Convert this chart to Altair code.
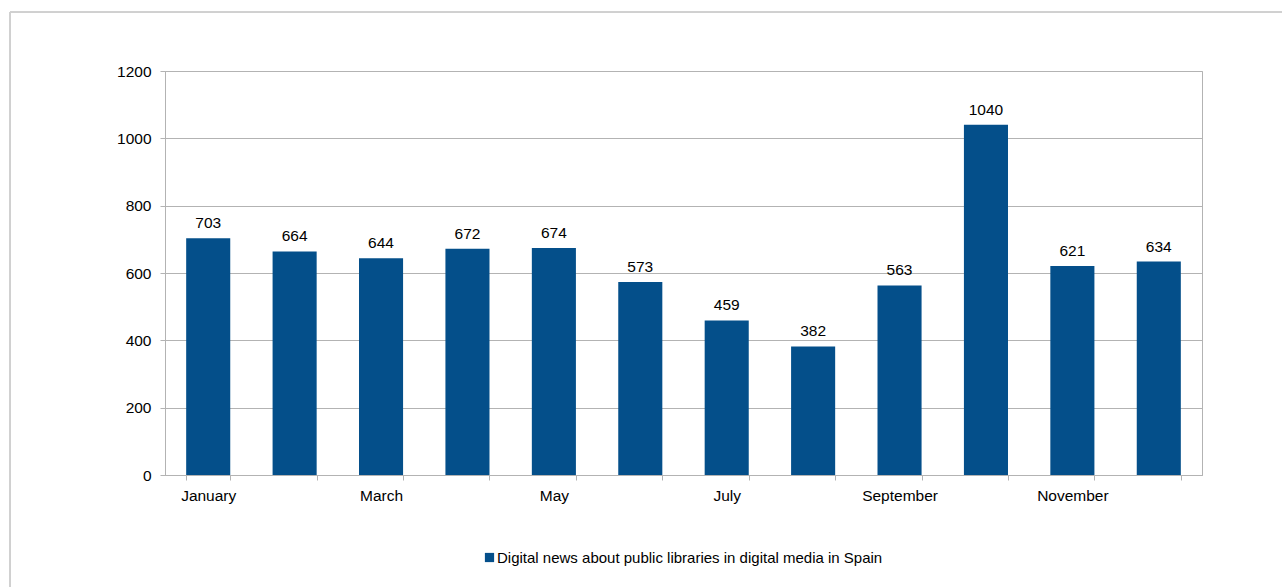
import altair as alt
import pandas as pd

months = ["January", "February", "March", "April", "May", "June", "July",
          "August", "September", "October", "November", "December"]
values = [703, 664, 644, 672, 674, 573, 459, 382, 563, 1040, 621, 634]
series_name = "Digital news about public libraries in digital media in Spain"

df = pd.DataFrame({"month": months, "value": values, "series": series_name})

FONT = "Liberation Sans"
GRID = "#b3b3b3"
BAR = "#044f8a"

x = alt.X("month:N", sort=months, title=None,
          scale=alt.Scale(paddingInner=0.49, paddingOuter=0.245),
          axis=alt.Axis(labelAngle=0, tickBand="extent", tickSize=5,
                        labelExpr="indexof(['January','March','May','July','September','November'], datum.value) >= 0 ? datum.value : ''",
                        labelPadding=8, labelFontSize=15.5, labelColor="#000000",
                        labelFont=FONT, domainColor=GRID, tickColor=GRID,
                        grid=False))
y = alt.Y("value:Q", title=None,
          scale=alt.Scale(domain=[0, 1200], nice=False),
          axis=alt.Axis(values=[0, 200, 400, 600, 800, 1000, 1200], tickSize=5,
                        format="d",
                        labelPadding=9, labelFontSize=15.5, labelColor="#000000",
                        labelFont=FONT, domainColor=GRID, tickColor=GRID,
                        gridColor=GRID, grid=True))

bars = alt.Chart(df).mark_bar(color=BAR).encode(
    x=x, y=y,
    color=alt.Color("series:N", scale=alt.Scale(range=[BAR]),
                    legend=alt.Legend(title=None, orient="none", legendX=317, legendY=479,
                                      symbolType="square", symbolSize=85,
                                      symbolStrokeWidth=0, labelFontSize=15,
                                      labelFont=FONT, labelColor="#000000",
                                      labelLimit=600, labelOffset=0)),
)

labels = alt.Chart(df).mark_text(baseline="bottom", dy=-7, fontSize=15.5,
                                  font=FONT, color="#000000").encode(
    x=alt.X("month:N", sort=months), y="value:Q", text="value:Q")

border_top = alt.Chart(df).mark_rule(color="#d0d0d0", clip=False).encode(
    x=alt.value(-155), x2=alt.value(1117), y=alt.value(-59))
border_left = alt.Chart(df).mark_rule(color="#d0d0d0", clip=False).encode(
    x=alt.value(-155), y=alt.value(-59), y2=alt.value(520))

chart = alt.layer(border_top, border_left, bars, labels).properties(
    width=1037, height=404,
    autosize=alt.AutoSizeParams(type="none"),
    padding={"left": 165, "top": 71, "right": 80, "bottom": 112},
    background="white",
).configure_view(stroke=GRID, strokeWidth=1)

chart.save("out.html", embed_options={"renderer": "svg", "actions": False})
